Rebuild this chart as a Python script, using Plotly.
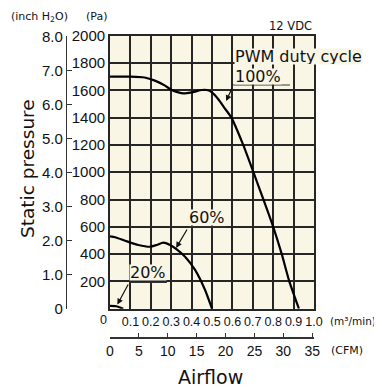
import plotly.graph_objects as go

# ---------------- data ----------------
airflow_100 = [0, 0.10, 0.17, 0.22, 0.27, 0.30, 0.335, 0.36, 0.40, 0.45, 0.475, 0.50, 0.53, 0.565, 0.595, 0.653, 0.703, 0.752, 0.80, 0.842, 0.879, 0.926]
pressure_100 = [1700, 1700, 1694, 1671, 1634, 1604, 1585, 1578, 1585, 1602, 1602, 1585, 1536, 1463, 1400, 1200, 1000, 800, 600, 400, 200, 0]

airflow_60 = [0, 0.025, 0.074, 0.139, 0.196, 0.229, 0.261, 0.294, 0.327, 0.368, 0.417, 0.466, 0.50]
pressure_60 = [530, 523, 498, 467, 454, 467, 484, 467, 435, 381, 284, 137, 0]

airflow_20 = [0, 0.03, 0.05, 0.065]
pressure_20 = [20, 18, 8, 0]

pa_ticks = [200, 400, 600, 800, 1000, 1200, 1400, 1600, 1800, 2000]
inch_ticks = [0, 1, 2, 3, 4, 5, 6, 7, 8]
inch_labels = ["0", "1.0", "2.0", "3.0", "4.0", "5.0", "6.0", "7.0", "8.0"]
m3_ticks = [0.1, 0.2, 0.3, 0.4, 0.5, 0.6, 0.7, 0.8, 0.9, 1.0]
m3_labels = ["0.1", "0.2", "0.3", "0.4", "0.5", "0.6", "0.7", "0.8", "0.9", "1.0"]
cfm_ticks = [0, 5, 10, 15, 20, 25, 30, 35]

PA_PER_INCH = 249.089
M3MIN_PER_CFM = 0.0283168

# page body has an 8px default margin: size the figure to fill the rest of the window
OFF = 8
W, H = 382 - OFF, 389 - OFF
def px(x):
    return (x - OFF) / W
def py(y):
    return 1 - (y - OFF) / H

NUM = "Liberation Sans Narrow, Liberation Sans, Arial, sans-serif"
SANS = "DejaVu Sans, Verdana, sans-serif"
BG = "#FAF6E5"
GRID = "#262626"

xdom = [px(110), px(314)]
ydom = [py(308.7), py(35.7)]

fig = go.Figure()
line = dict(color="black", width=2.2, shape="spline", smoothing=0.6)
fig.add_trace(go.Scatter(x=airflow_100, y=pressure_100, mode="lines", line=line, hoverinfo="skip"))
fig.add_trace(go.Scatter(x=airflow_60, y=pressure_60, mode="lines", line=line, hoverinfo="skip"))
fig.add_trace(go.Scatter(x=airflow_20, y=pressure_20, mode="lines", line=line, hoverinfo="skip"))
# invisible trace to activate secondary axes
fig.add_trace(go.Scatter(x=[0], y=[0], xaxis="x2", yaxis="y2", mode="markers",
                         marker=dict(opacity=0), hoverinfo="skip"))

fig.update_layout(
    width=W, height=H,
    margin=dict(l=0, r=0, t=0, b=0, pad=0, autoexpand=False),
    paper_bgcolor="white", plot_bgcolor=BG,
    showlegend=False,
    xaxis=dict(domain=xdom, range=[0, 1.0], tickvals=m3_ticks, ticktext=m3_labels,
               tickangle=0,
               showgrid=True, gridcolor=GRID, gridwidth=1.7,
               showline=True, linecolor=GRID, linewidth=1.8, mirror=True,
               ticks="", zeroline=False,
               tickfont=dict(family=NUM, size=12.5, color="#111"), fixedrange=True),
    yaxis=dict(domain=ydom, range=[0, 2000], tickvals=pa_ticks,
               showgrid=True, gridcolor=GRID, gridwidth=1.7,
               showline=True, linecolor=GRID, linewidth=1.8, mirror=True,
               ticks="", zeroline=False,
               tickfont=dict(family=NUM, size=15, color="#111"), fixedrange=True),
    yaxis2=dict(overlaying="y", anchor="free", position=px(66), side="left",
                range=[0, 2000 / PA_PER_INCH], tickvals=inch_ticks, ticktext=inch_labels,
                showgrid=False, zeroline=False, showline=True, linecolor="#333", linewidth=1.2,
                ticks="inside", ticklen=5, tickwidth=1.2, tickcolor="#333",
                tickfont=dict(family=NUM, size=15, color="#111"), fixedrange=True),
    xaxis2=dict(overlaying="x", anchor="free", position=py(338.3), side="bottom",
                range=[0, 1.0 / M3MIN_PER_CFM], tickvals=cfm_ticks, tickangle=0,
                showgrid=False, zeroline=False, showline=True, linecolor="#333", linewidth=1.5,
                ticks="inside", ticklen=5, tickwidth=1.2, tickcolor="#333",
                tickfont=dict(family=NUM, size=14, color="#111"), fixedrange=True),
)

ann = []
def ptext(text, x, y, size, family=SANS, angle=0, xanchor="center"):
    ann.append(dict(text=text, x=px(x), y=py(y), xref="paper", yref="paper",
                    showarrow=False, font=dict(family=family, size=size, color="#111"),
                    textangle=angle, xanchor=xanchor, yanchor="middle"))

ptext("(inch H<sub>2</sub>O)", 39, 17, 11)
ptext("(Pa)", 96, 17, 11)
ptext("12 VDC", 290, 26, 11.5)
ptext("0", 103, 320, 12.5, family=NUM)
ptext("(m³/min)", 353, 321, 10.5)
ptext("(CFM)", 347, 350, 11)
ptext("Airflow", 210, 377, 19)
ptext("Static pressure", 27, 169, 18.5, angle=-90)

def dtext(text, x, y, size=16, xanchor="left"):
    ann.append(dict(text=text, x=x, y=y, xref="x", yref="y", showarrow=False,
                    font=dict(family=SANS, size=size, color="#111"), bgcolor=BG,
                    xanchor=xanchor, yanchor="middle", borderpad=0, height=15))

dtext("PWM duty cycle", 0.607, 1844)
dtext("100%", 0.610, 1703)
dtext("60%", 0.474, 666, xanchor="center")
dtext("20%", 0.186, 264, xanchor="center")

def arrow(x0, y0, x1, y1):
    ann.append(dict(text="", x=x1, y=y1, ax=x0, ay=y0, xref="x", yref="y",
                    axref="x", ayref="y", showarrow=True, arrowhead=2,
                    arrowsize=1.0, arrowwidth=1.2, arrowcolor="#111",
                    standoff=0, startstandoff=0))

arrow(0.603, 1631, 0.569, 1521)
arrow(0.382, 591, 0.324, 445)
arrow(0.093, 188, 0.036, 30)

fig.update_layout(annotations=ann)

shapes = []
for (xa, xb, yv) in [(0.603, 0.882, 1639), (0.382, 0.569, 599), (0.093, 0.279, 192)]:
    shapes.append(dict(type="line", x0=xa, x1=xb, y0=yv, y1=yv, xref="x", yref="y",
                       line=dict(color="#333", width=1.2)))
fig.update_layout(shapes=shapes)

fig.write_html("out.html")
